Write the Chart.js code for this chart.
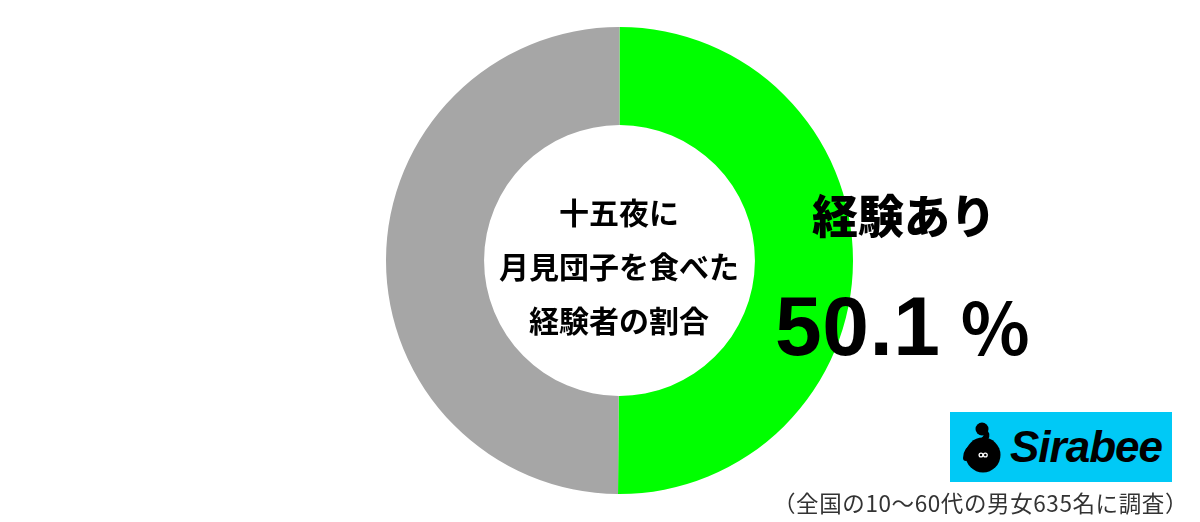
<!DOCTYPE html>
<html>
<head>
<meta charset="utf-8">
<script src="https://cdn.jsdelivr.net/npm/chart.js@4"></script>
<style>
  html, body { margin: 0; padding: 0; background: #fff; width: 1200px; height: 522px; overflow: hidden; }
  body { position: relative; font-family: "Noto Sans CJK JP", "Noto Sans", sans-serif; }
  #wrap { position: absolute; left: 386px; top: 27px; width: 467px; height: 467px; }
  .abs { position: absolute; white-space: nowrap; color: #000; }
  #center { left: 469px; top: 184px; width: 300px; text-align: center; font-size: 30px; font-weight: 700; line-height: 54px; }
  #label { left: 754px; top: 183px; width: 300px; text-align: center; font-size: 46px; font-weight: 900; line-height: 60px; }
  #value { left: 775px; top: 276px; font-size: 84px; font-weight: 700; line-height: 96px; font-family: "Liberation Sans", "Noto Sans CJK JP", sans-serif; letter-spacing: 0.5px; }
  #value .pct { font-family: "Noto Sans CJK JP", sans-serif; font-weight: 700; font-size: 72px; margin-left: 20px; letter-spacing: 0; }
  #logo { position: absolute; left: 950px; top: 412px; width: 222px; height: 70px; background: #00c9f6; }
  #logo svg { position: absolute; left: 960px; top: 418px; }
  #logo .brand { position: absolute; left: 60px; top: 8px; font-family: "Liberation Sans", Arial, sans-serif; font-weight: 700; font-style: italic; font-size: 44px; letter-spacing: -1px; line-height: 54px; color: #000; }
  #foot { right: 12px; top: 488px; font-size: 22.5px; font-weight: 400; color: #333; line-height: 28px; letter-spacing: 0.6px; }
</style>
</head>
<body>
<div id="wrap"><canvas id="c" width="467" height="467"></canvas></div>
<div class="abs" id="center">十五夜に<br>月見団子を食べた<br>経験者の割合</div>
<div class="abs" id="label">経験あり</div>
<div class="abs" id="value">50.1<span class="pct">%</span></div>
<div id="logo">
  <svg style="position:absolute;left:10px;top:6px" width="50" height="60" viewBox="0 0 50 60">
    <path d="M23 12 C 31 18, 24 23, 14 28 C 8 31, 6 35, 6 40" stroke="#000" stroke-width="6" fill="none" stroke-linecap="round"/>
    <circle cx="22" cy="11" r="6.5" fill="#000"/>
    <circle cx="23" cy="37" r="17.5" fill="#000"/>
    <circle cx="21" cy="37" r="1.9" fill="none" stroke="#fff" stroke-width="1.3"/>
    <circle cx="25.3" cy="37" r="1.9" fill="none" stroke="#fff" stroke-width="1.3"/>
  </svg>
  <div class="brand">Sirabee</div>
</div>
<div class="abs" id="foot">（全国の10〜60代の男女635名に調査）</div>
<script>
const categories = ['経験あり', '経験なし'];
const values = [50.1, 49.9];
const colors = ['#00ff00', '#a6a6a6'];

new Chart(document.getElementById('c'), {
  type: 'doughnut',
  data: {
    labels: categories,
    datasets: [{ data: values, backgroundColor: colors, borderWidth: 0 }]
  },
  options: {
    responsive: false,
    animation: false,
    cutout: '58%',
    rotation: 0,
    layout: { padding: 0 },
    plugins: { legend: { display: false }, tooltip: { enabled: false } }
  }
});
</script>
</body>
</html>
